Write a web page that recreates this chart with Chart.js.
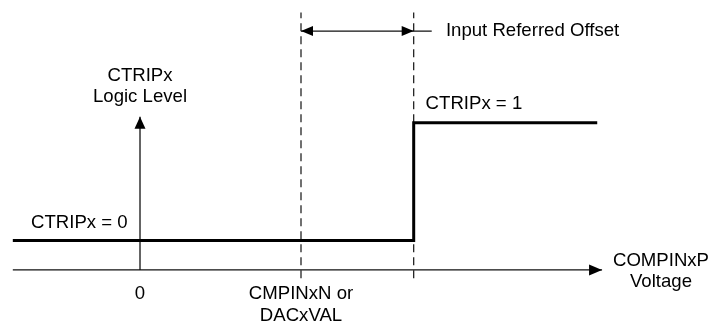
<!DOCTYPE html>
<html>
<head>
<meta charset="utf-8">
<script src="https://cdn.jsdelivr.net/npm/chart.js@4/dist/chart.umd.min.js"></script>
<style>
html,body{margin:0;padding:0;background:#fff;}
#wrap{position:relative;width:708px;height:324px;}
</style>
</head>
<body>
<div id="wrap"><canvas id="c"></canvas></div>
<script>
// ---- Data (x in voltage units: 0 = origin, 1 = CMPINxN/DACxVAL; y in logic level) ----
const stepX = [-0.79, 1.7, 1.7, 2.84];
const stepY = [0, 0, 1, 1];
const xAxisX = [-0.79, 2.87];
const xAxisY = [-0.25, -0.25];
const yAxisX = [0, 0];
const yAxisY = [-0.25, 1.05];
const refX = [1, 1.7];          // CMPINxN/DACxVAL and tripping point
const refYRange = [-0.32, 1.935];
const offsetY = 1.778;
const offsetLeaderEnd = 1.812;
const labels = [
  {text: 'CTRIPx', x: 0, y: 1.396, align: 'center'},
  {text: 'Logic Level', x: 0, y: 1.218, align: 'center'},
  {text: 'Input Referred Offset', x: 1.9, y: 1.778, align: 'left'},
  {text: 'CTRIPx = 1', x: 1.774, y: 1.159, align: 'left'},
  {text: 'CTRIPx = 0', x: -0.677, y: 0.149, align: 'left'},
  {text: '0', x: 0, y: -0.452, align: 'center'},
  {text: 'CMPINxN or', x: 1, y: -0.456, align: 'center'},
  {text: 'DACxVAL', x: 1, y: -0.641, align: 'center'},
  {text: 'COMPINxP', x: 3.236, y: -0.174, align: 'center'},
  {text: 'Voltage', x: 3.236, y: -0.352, align: 'center'}
];
// arrowheads: tip position in data units and direction
const arrows = [
  {x: 0, y: 1.05, dir: 'up', len: 12, w: 11},
  {x: 2.87, y: -0.25, dir: 'right', len: 13, w: 11},
  {x: 1, y: offsetY, dir: 'left', len: 12, w: 10},
  {x: 1.7, y: offsetY, dir: 'right', len: 12, w: 10}
];

const pts = (xs, ys) => xs.map((x, i) => ({x, y: ys[i]}));

const datasets = [
  {data: pts(stepX, stepY), borderColor: '#000', borderWidth: 3, pointRadius: 0, showLine: true, borderJoinStyle: 'miter'},
  {data: pts(xAxisX, xAxisY), borderColor: '#111', borderWidth: 1.3, pointRadius: 0, showLine: true},
  {data: pts(yAxisX, yAxisY), borderColor: '#111', borderWidth: 1.3, pointRadius: 0, showLine: true},
  {data: pts([refX[0], refX[0]], refYRange), borderColor: '#111', borderWidth: 1.2, borderDash: [8, 5], pointRadius: 0, showLine: true},
  {data: pts([refX[1], refX[1]], refYRange), borderColor: '#111', borderWidth: 1.2, borderDash: [8, 5], pointRadius: 0, showLine: true},
  {data: pts([refX[0], offsetLeaderEnd], [offsetY, offsetY]), borderColor: '#111', borderWidth: 1.3, pointRadius: 0, showLine: true}
];

const annot = {
  id: 'annot',
  afterDatasetsDraw(chart) {
    const ctx = chart.ctx, xs = chart.scales.x, ys = chart.scales.y;
    ctx.save();
    ctx.fillStyle = '#000';
    arrows.forEach(a => {
      const px = xs.getPixelForValue(a.x), py = ys.getPixelForValue(a.y);
      const h = a.w / 2;
      ctx.beginPath();
      if (a.dir === 'up') { ctx.moveTo(px, py); ctx.lineTo(px - h, py + a.len); ctx.lineTo(px + h, py + a.len); }
      else if (a.dir === 'right') { ctx.moveTo(px, py); ctx.lineTo(px - a.len, py - h); ctx.lineTo(px - a.len, py + h); }
      else if (a.dir === 'left') { ctx.moveTo(px, py); ctx.lineTo(px + a.len, py - h); ctx.lineTo(px + a.len, py + h); }
      ctx.closePath();
      ctx.fill();
    });
    ctx.font = '18.6px "Liberation Sans", Arial, sans-serif';
    ctx.textBaseline = 'middle';
    labels.forEach(l => {
      ctx.textAlign = l.align;
      ctx.fillText(l.text, xs.getPixelForValue(l.x), ys.getPixelForValue(l.y));
    });
    ctx.restore();
  }
};

new Chart(document.getElementById('c'), {
  type: 'scatter',
  data: {datasets},
  options: {
    responsive: true,
    maintainAspectRatio: false,
    animation: false,
    layout: {padding: 0},
    plugins: {legend: {display: false}, tooltip: {enabled: false}},
    scales: {
      x: {type: 'linear', display: false, min: -0.8696, max: 3.528},
      y: {type: 'linear', display: false, min: -0.7088, max: 2.0416}
    }
  },
  plugins: [annot]
});
</script>
</body>
</html>
